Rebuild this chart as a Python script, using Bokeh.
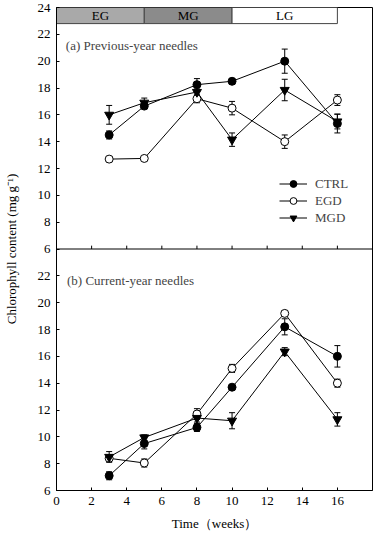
from bokeh.plotting import figure
from bokeh.models import (ColumnDataSource, Whisker, TeeHead, FixedTicker, Span,
                          Legend, LegendItem, Label)
from bokeh.core.properties import value
from bokeh.embed import file_html
from bokeh.resources import INLINE

FONT = "Liberation Serif"

weeks = [3, 5, 8, 10, 13, 16]

# (a) Previous-year needles
a_ctrl = [14.5, 16.65, 18.25, 18.5, 20.0, 15.35]
a_ctrl_err = [0.3, 0.2, 0.45, 0.2, 0.9, 0.7]
a_egd = [12.7, 12.75, 17.2, 16.5, 14.0, 17.1]
a_egd_err = [0.2, 0.15, 0.3, 0.5, 0.5, 0.4]
a_mgd = [16.0, 16.9, 17.7, 14.15, 17.85, 15.5]
a_mgd_err = [0.7, 0.35, 0.3, 0.5, 0.8, 0.55]

# (b) Current-year needles
b_ctrl = [7.1, 9.5, 10.7, 13.7, 18.2, 16.0]
b_ctrl_err = [0.3, 0.4, 0.3, 0.1, 0.6, 0.8]
b_egd = [8.4, 8.05, 11.7, 15.1, 19.2, 14.0]
b_egd_err = [0.2, 0.3, 0.4, 0.3, 0.2, 0.3]
b_mgd = [8.5, 9.95, 11.4, 11.2, 16.35, 11.3]
b_mgd_err = [0.4, 0.2, 0.3, 0.6, 0.3, 0.5]

phases = ["EG", "MG", "LG"]
phase_start = [0, 5, 10]
phase_end = [5, 10, 16]
phase_colors = ["#a9a9a9", "#8b8b8b", "#ffffff"]
phase_bottom = 22.8

x_ticks = [0, 2, 4, 6, 8, 10, 12, 14, 16]
y_min, y_max = 6, 24
OFF = y_max - y_min  # vertical offset for the upper panel

p = figure(width=373, height=534, x_range=(0, 18), y_range=(y_min, y_max + OFF),
           output_backend="svg", toolbar_location=None,
           min_border_left=51, min_border_right=1, min_border_top=7, min_border_bottom=44)
p.xgrid.visible = False
p.ygrid.visible = False
p.outline_line_color = "black"
p.outline_line_width = 1
p.background_fill_color = "white"

# axes
p.xaxis.ticker = FixedTicker(ticks=x_ticks)
p.xaxis.minor_tick_line_color = None
p.xaxis.major_tick_in = 3
p.xaxis.major_tick_out = 0
p.xaxis.axis_label = "Time（weeks）"
p.xaxis.major_label_standoff = 6

yt = list(range(y_min, y_max + OFF + 1, 2))
overrides = {}
for t in yt:
    if t < y_max:
        overrides[t] = str(t)
    elif t == y_max:
        overrides[t] = str(y_min)
    else:
        overrides[t] = str(t - OFF)
p.yaxis.ticker = FixedTicker(ticks=yt)
p.yaxis.major_label_overrides = overrides
p.yaxis.minor_tick_line_color = None
p.yaxis.major_tick_in = 3
p.yaxis.major_tick_out = 0
p.yaxis.axis_label = "Chlorophyll content (mg g⁻¹)"
p.yaxis.major_label_standoff = 6

for ax in (p.xaxis[0], p.yaxis[0]):
    ax.axis_line_color = "black"
    ax.major_tick_line_color = "black"
    ax.major_label_text_font = FONT
    ax.major_label_text_font_size = "13px"
    ax.major_label_text_color = "black"
    ax.axis_label_text_font = FONT
    ax.axis_label_text_font_size = "13px"
    ax.axis_label_text_font_style = "normal"
    ax.axis_label_text_color = "black"
p.xaxis.axis_label_standoff = 8
p.yaxis.axis_label_standoff = 16

# divider between panels with inward ticks
p.add_layout(Span(location=y_max, dimension="width", line_color="black", line_width=1))
p.segment(x0=x_ticks[1:], y0=[y_max] * (len(x_ticks) - 1),
          x1=x_ticks[1:], y1=[y_max + 0.25] * (len(x_ticks) - 1),
          line_color="black", line_width=1)

# phase bar
p.quad(left=phase_start, right=phase_end, bottom=[phase_bottom + OFF] * 3,
       top=[y_max + OFF] * 3, fill_color=phase_colors, line_color="#444444", line_width=1)
p.text(x=[(s + e) / 2 for s, e in zip(phase_start, phase_end)],
       y=[(phase_bottom + y_max) / 2 + OFF] * 3, text=phases,
       text_font=value(FONT), text_font_size="13px", text_align="center",
       text_baseline="middle", text_color="black")

# panel labels
p.add_layout(Label(x=0.53, y=21.2 + OFF, text="(a) Previous-year needles",
                   text_font=FONT, text_font_size="13px", text_baseline="middle"))
p.add_layout(Label(x=0.6, y=21.65, text="(b) Current-year needles",
                   text_font=FONT, text_font_size="13px", text_baseline="middle"))

legend_items = []

def series(vals, errs, offset, marker, fill, size, label=None):
    y = [v + offset for v in vals]
    src = ColumnDataSource(dict(x=weeks, y=y,
                                lo=[v - e for v, e in zip(y, errs)],
                                hi=[v + e for v, e in zip(y, errs)]))
    lr = p.line("x", "y", source=src, line_color="black", line_width=1)
    p.add_layout(Whisker(source=src, base="x", lower="lo", upper="hi",
                         line_color="black", line_width=1,
                         upper_head=TeeHead(size=6, line_color="black", line_width=1),
                         lower_head=TeeHead(size=6, line_color="black", line_width=1)))
    sr = p.scatter("x", "y", source=src, marker=marker, size=size,
                   fill_color=fill, line_color="black", line_width=1)
    if label:
        legend_items.append(LegendItem(label=label, renderers=[lr, sr]))

series(a_ctrl, a_ctrl_err, OFF, "circle", "black", 8, "CTRL")
series(a_egd, a_egd_err, OFF, "circle", "white", 8, "EGD")
series(a_mgd, a_mgd_err, OFF, "inverted_triangle", "black", 9, "MGD")
series(b_ctrl, b_ctrl_err, 0, "circle", "black", 8)
series(b_egd, b_egd_err, 0, "circle", "white", 8)
series(b_mgd, b_mgd_err, 0, "inverted_triangle", "black", 9)

legend = Legend(items=legend_items, location=(223, 264), padding=0, margin=0,
                spacing=0, glyph_width=28, glyph_height=17, label_height=17,
                label_standoff=8, label_text_font=FONT, label_text_font_size="13px",
                background_fill_alpha=0, border_line_alpha=0)
p.add_layout(legend)

open("out.html", "w").write(file_html(p, INLINE))
